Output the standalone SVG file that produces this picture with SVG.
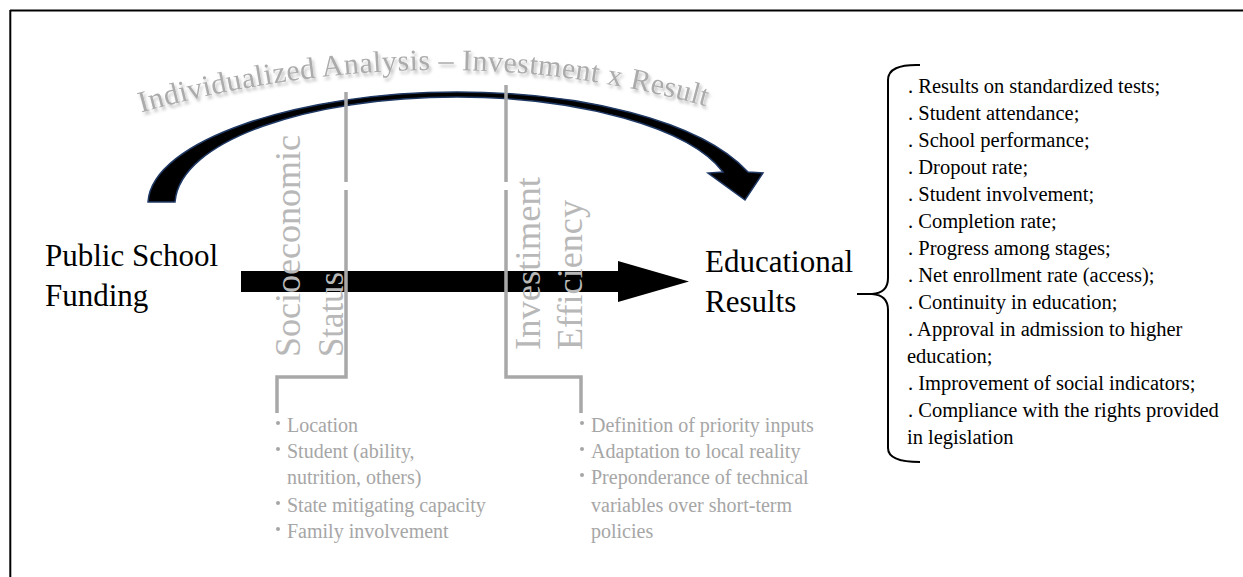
<svg xmlns="http://www.w3.org/2000/svg" width="1243" height="577" viewBox="0 0 1243 577">
<style>
text{font-family:"Liberation Serif","DejaVu Serif",serif}
.main{font-size:31px;fill:#000}
.vlab{font-size:35px;fill:#b8b8b8}
.bul{font-size:20px;fill:#a6a6a6}
.dot{fill:#a6a6a6}
.ind{font-size:20.5px;fill:#000}
.gline{fill:none;stroke:#a8a8a8;stroke-width:3.5}
.arc{font-size:30px;fill:#ababab;letter-spacing:0.4px}
</style>
<defs>
<filter id="sh" x="-10%" y="-30%" width="120%" height="160%">
<feDropShadow dx="2" dy="3" stdDeviation="1.8" flood-color="#000" flood-opacity="0.25"/>
</filter>
<path id="arcpath" d="M79.7,131 Q442.9,11.4 768.5,126.2"/>
</defs>
<rect width="1243" height="577" fill="#fff"/>
<g id="frame">
<line x1="10" y1="10.5" x2="1243" y2="10.5" stroke="#000" stroke-width="2"/>
<line x1="10.3" y1="10" x2="10.3" y2="577" stroke="#000" stroke-width="2"/>
</g>
<g id="connectors">
<path id="curved-arrow" d="M148,202 C152,140 300,92 457,92 C580,92 700,120 748,172 L763,173 L745,200 L708,173 L723,172 C690,128 580,97 457,97 C310,97 180,140 175,202 Z" fill="#000" stroke="#1f3864" stroke-width="1.5" stroke-linejoin="miter"/>
<path id="straight-arrow" d="M241,271 L618,271 L618,261 L689,281.5 L618,302 L618,292 L241,292 Z" fill="#000"/>
</g>
<g id="arc-label" filter="url(#sh)">
<text class="arc"><textPath href="#arcpath" startOffset="64">Individualized Analysis – Investment x Result</textPath></text>
</g>
<g id="node-funding">
<text class="main" x="45" y="266">Public School</text>
<text class="main" x="45" y="306">Funding</text>
</g>
<g id="node-results">
<text class="main" x="705" y="272">Educational</text>
<text class="main" x="705" y="312">Results</text>
</g>
<g id="node-socioeconomic">
<polyline class="gline" points="346,92 346,182"/>
<polyline class="gline" points="346,190 346,377 277,377 277,413"/>
<text class="vlab" transform="translate(300,357) rotate(-90)" textLength="222" lengthAdjust="spacingAndGlyphs">Socioeconomic</text>
<text class="vlab" transform="translate(343,357) rotate(-90)" textLength="85" lengthAdjust="spacingAndGlyphs">Status</text>
<circle class="dot" cx="278" cy="423" r="2"/>
<text class="bul" x="287" y="432">Location</text>
<circle class="dot" cx="278" cy="449" r="2"/>
<text class="bul" x="287" y="458">Student (ability,</text>
<text class="bul" x="287" y="484">nutrition, others)</text>
<circle class="dot" cx="278" cy="503" r="2"/>
<text class="bul" x="287" y="512">State mitigating capacity</text>
<circle class="dot" cx="278" cy="529" r="2"/>
<text class="bul" x="287" y="538">Family involvement</text>
</g>
<g id="node-investment">
<polyline class="gline" points="506,85 506,182"/>
<polyline class="gline" points="506,190 506,377 581,377 581,413"/>
<text class="vlab" transform="translate(540,350) rotate(-90)" textLength="173" lengthAdjust="spacingAndGlyphs">Investiment</text>
<text class="vlab" transform="translate(582,350) rotate(-90)" textLength="150" lengthAdjust="spacingAndGlyphs">Efficiency</text>
<circle class="dot" cx="582" cy="423" r="2"/>
<text class="bul" x="591" y="432">Definition of priority inputs</text>
<circle class="dot" cx="582" cy="449" r="2"/>
<text class="bul" x="591" y="458">Adaptation to local reality</text>
<circle class="dot" cx="582" cy="475" r="2"/>
<text class="bul" x="591" y="484">Preponderance of technical</text>
<text class="bul" x="591" y="512">variables over short-term</text>
<text class="bul" x="591" y="538">policies</text>
</g>
<g id="node-indicators">
<path d="M920,65 Q888,64 888,80 L888,278 Q888,293 872,294 L857,294 M872,294 Q888,295 888,310 L888,448 Q888,462 920,462" fill="none" stroke="#000" stroke-width="2"/>
<text class="ind" x="908" y="93">. Results on standardized tests;</text>
<text class="ind" x="908" y="120">. Student attendance;</text>
<text class="ind" x="908" y="147">. School performance;</text>
<text class="ind" x="908" y="174">. Dropout rate;</text>
<text class="ind" x="908" y="201">. Student involvement;</text>
<text class="ind" x="908" y="228">. Completion rate;</text>
<text class="ind" x="908" y="255">. Progress among stages;</text>
<text class="ind" x="908" y="282">. Net enrollment rate (access);</text>
<text class="ind" x="908" y="309">. Continuity in education;</text>
<text class="ind" x="908" y="336">. Approval in admission to higher</text>
<text class="ind" x="907" y="363">education;</text>
<text class="ind" x="908" y="390">. Improvement of social indicators;</text>
<text class="ind" x="908" y="417">. Compliance with the rights provided</text>
<text class="ind" x="907" y="444">in legislation</text>
</g>
</svg>
